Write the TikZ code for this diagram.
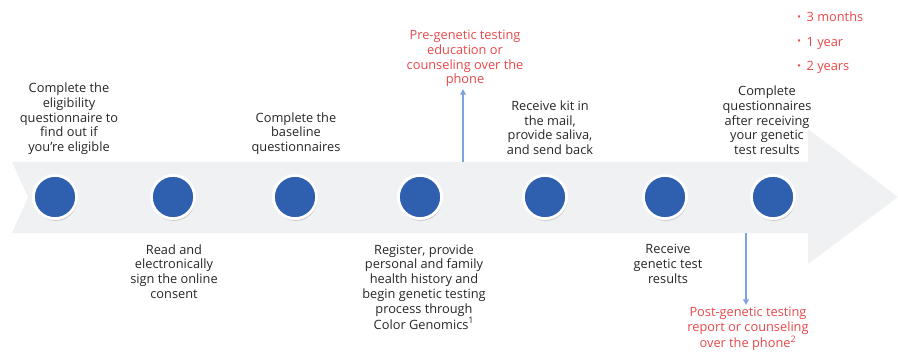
\documentclass[tikz,border=0pt]{standalone}
\usepackage{fontspec}
\setmainfont{Open Sans}
\usetikzlibrary{arrows.meta,shadows}
\definecolor{bandgrey}{HTML}{F0F1F3}
\definecolor{dotblue}{HTML}{2F5FAF}
\definecolor{noteblue}{HTML}{7FA2E0}
\definecolor{notered}{HTML}{E8474A}
\tikzset{
  dot/.style={circle,fill=dotblue,draw=white,line width=2pt,
    minimum size=1.08cm,inner sep=0,
    drop shadow={shadow xshift=.6pt,shadow yshift=-1.6pt,opacity=.35}},
  steptext/.style={align=center,inner sep=0,text=black!85,
    font=\fontsize{9.1}{10.5}\selectfont},
  notetext/.style={steptext,text=notered,outer sep=1.5pt},
  note/.style={noteblue,line width=1.1pt,-{Triangle[length=4pt,width=4pt]}}
}
\begin{document}
\begin{tikzpicture}[x=0.025cm,y=-0.025cm]
\useasboundingbox (0,0) rectangle (898,353);
% the timeline band
\fill[bandgrey] (12,162) -- (808,162) -- (808,129) -- (898,197)
  -- (808,264) -- (808,233) -- (12,233) -- (28,197) -- cycle;
\foreach \x [count=\i] in {55,173,295,420,545,665,773}
  \node[dot] (c\i) at (\x,197) {};
% above the band
\node[steptext,anchor=south] (t1) at (69,155) {Complete the\\eligibility\\
  questionnaire to\\find out if\\you're eligible};
\node[steptext,anchor=south] (t3) at (296,155)
  {Complete the\\baseline\\questionnaires};
\node[steptext,anchor=south] (t5) at (550,155)
  {Receive kit in\\the mail,\\provide saliva,\\and send back};
\node[steptext,anchor=south] (t7) at (767,155) {Complete\\questionnaires\\
  after receiving\\your genetic\\test results};
% below the band
\node[steptext,anchor=north] (t2) at (174,244)
  {Read and\\electronically\\sign the online\\consent};
\node[steptext,anchor=north] (t4) at (424,244) {Register, provide\\
  personal and family\\health history and\\begin genetic testing\\
  process through\\Color Genomics\textsuperscript{1}};
\node[steptext,anchor=north] (t6) at (668,244)
  {Receive\\genetic test\\results};
% phone counseling notes
\node[notetext,anchor=south] (pre) at (465,89) {Pre-genetic testing\\
  education or\\counseling over the\\phone};
\node[notetext,anchor=north] (post) at (748,305) {Post-genetic testing\\
  report or counseling\\over the phone\textsuperscript{2}};
\coordinate (preroot) at (463,162);
\coordinate (postroot) at (746,233);
\draw[note] (preroot) -- (preroot|-pre.south);
\draw[note] (postroot) -- (postroot|-post.north);
% follow-up times
\foreach \t [count=\i] in {3 months,1 year,2 years}
  \node[steptext,text=notered,anchor=base west] (f\i) at (797,-2.5+24.5*\i)
    {\raisebox{1.3pt}{\fontsize{7}{7}\selectfont\textbullet}\hspace{4pt}\t};
\end{tikzpicture}
\end{document}
